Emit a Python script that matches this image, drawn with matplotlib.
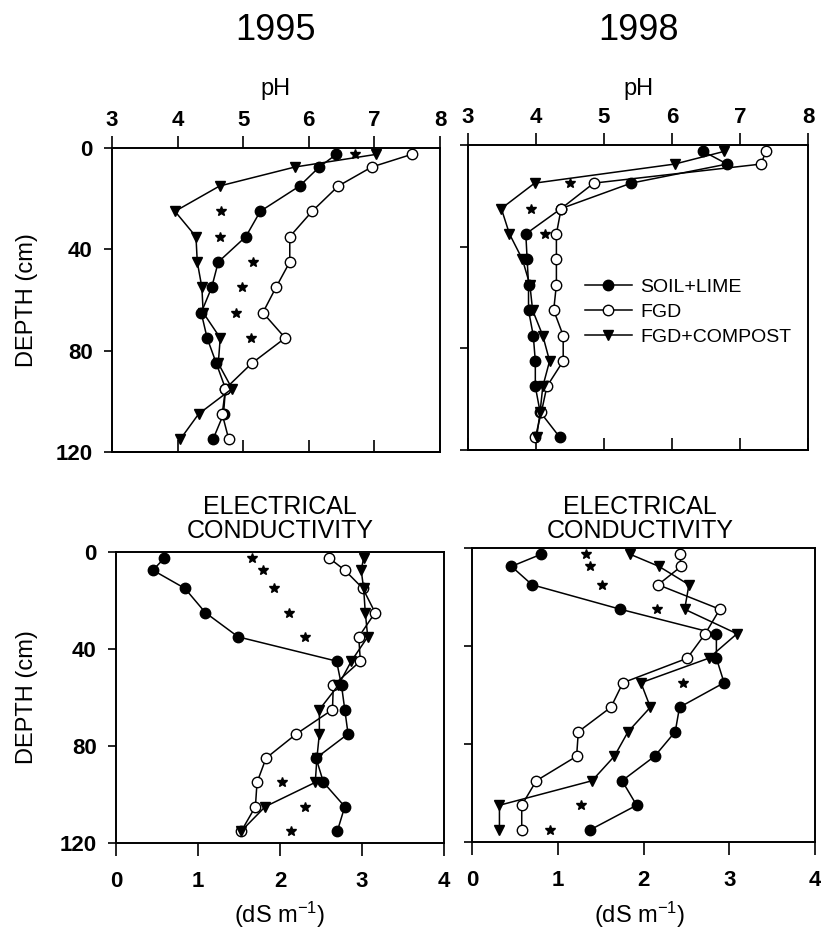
import matplotlib
matplotlib.use('Agg')
import matplotlib.pyplot as plt

plt.rcParams['font.family'] = ['Liberation Sans', 'DejaVu Sans']
plt.rcParams['mathtext.fontset'] = 'custom'
plt.rcParams['mathtext.rm'] = 'Liberation Sans'
plt.rcParams['mathtext.it'] = 'Liberation Sans:italic'
plt.rcParams['mathtext.bf'] = 'Liberation Sans:bold'

# ---------------- data ----------------
depth = [2.5, 7.5, 15, 25, 35, 45, 55, 65, 75, 85, 95, 105, 115]

ph95_soil = [6.42, 6.16, 5.86, 5.26, 5.04, 4.62, 4.52, 4.36, 4.45, 4.59, 4.73, 4.70, 4.54]
ph95_fgd = [7.57, 6.96, 6.45, 6.05, 5.71, 5.71, 5.50, 5.30, 5.64, 5.13, 4.73, 4.68, 4.78]
ph95_comp = [7.03, 5.79, 4.64, 3.96, 4.28, 4.30, 4.37, 4.39, 4.65, 4.62, 4.83, 4.32, 4.04]
ph95_star_depth = [2.5, 25, 35, 45, 55, 65, 75]
ph95_star = [6.70, 4.66, 4.64, 5.15, 4.98, 4.89, 5.12]

ph98_soil = [6.46, 6.81, 5.40, 4.37, 3.85, 3.87, 3.89, 3.89, 3.96, 3.99, 3.99, 4.06, 4.35]
ph98_fgd = [7.38, 7.31, 4.85, 4.37, 4.30, 4.30, 4.30, 4.26, 4.40, 4.40, 4.16, 4.08, 3.99]
ph98_comp = [6.77, 6.04, 3.98, 3.49, 3.61, 3.80, 3.91, 3.95, 4.10, 4.20, 4.10, 4.06, 4.01]
ph98_star_depth = [15, 25, 35]
ph98_star = [4.50, 3.93, 4.13]

ec95_soil = [0.59, 0.45, 0.84, 1.09, 1.49, 2.69, 2.75, 2.79, 2.83, 2.44, 2.53, 2.79, 2.70]
ec95_fgd = [2.60, 2.79, 3.01, 3.16, 2.96, 2.98, 2.65, 2.64, 2.20, 1.83, 1.72, 1.70, 1.53]
ec95_comp = [3.02, 2.99, 3.02, 3.04, 3.07, 2.87, 2.71, 2.48, 2.48, 2.45, 2.43, 1.82, 1.53]
ec95_star_depth = [2.5, 7.5, 15, 25, 35, 95, 105, 115]
ec95_star = [1.66, 1.79, 1.93, 2.11, 2.31, 2.03, 2.30, 2.13]

ec98_soil = [0.81, 0.46, 0.70, 1.73, 2.85, 2.85, 2.94, 2.42, 2.37, 2.13, 1.75, 1.92, 1.38]
ec98_fgd = [2.42, 2.44, 2.17, 2.89, 2.72, 2.51, 1.76, 1.62, 1.24, 1.22, 0.75, 0.58, 0.58]
ec98_comp = [1.84, 2.18, 2.53, 2.48, 3.09, 2.76, 1.97, 2.08, 1.82, 1.66, 1.40, 0.32, 0.32]
ec98_star_depth = [2.5, 7.5, 15, 25, 55, 105, 115]
ec98_star = [1.33, 1.38, 1.52, 2.16, 2.46, 1.27, 0.91]

series_labels = ['SOIL+LIME', 'FGD', 'FGD+COMPOST']
years = ['1995', '1998']
ph_ticks = [3, 4, 5, 6, 7, 8]
ec_ticks = [0, 1, 2, 3, 4]
depth_ticks = [0, 40, 80, 120]

# ---------------- layout ----------------
W, H = 821, 934
fig = plt.figure(figsize=(W / 100, H / 100), dpi=100)


def rect(l, t, r, b):
    return [l / W, 1 - b / H, (r - l) / W, (b - t) / H]


TICK_FS = 16
MS = 7.5

styles = [
    dict(marker='o', color='black', mfc='black', mec='black'),
    dict(marker='o', color='black', mfc='white', mec='black'),
    dict(marker='v', color='black', mfc='black', mec='black'),
]


def draw(ax, soil, fgd, comp, sdep, sval, xlim):
    handles = []
    for vals, st, lab in zip([soil, fgd, comp], styles, series_labels):
        h, = ax.plot(vals, depth, lw=1.1, ms=MS, mew=1.0, label=lab, **st)
        handles.append(h)
    ax.plot(sval, sdep, ls='none', marker='*', ms=7, color='black')
    ax.set_xlim(*xlim)
    ax.set_ylim(120, 0)
    ax.set_yticks(depth_ticks)
    for s in ax.spines.values():
        s.set_linewidth(1.4)
    return handles


def bold_ticks(ax):
    for lab in ax.get_xticklabels() + ax.get_yticklabels():
        lab.set_fontweight('bold')


def style_ph(ax, left_labels):
    ax.set_xticks(ph_ticks)
    ax.xaxis.set_ticks_position('top')
    ax.tick_params(axis='x', which='both', direction='out', length=9, width=1.2,
                   labelsize=TICK_FS, pad=3, top=True, bottom=False,
                   labeltop=True, labelbottom=False)
    sec = ax.secondary_xaxis('bottom')
    sec.set_xticks(ph_ticks)
    sec.tick_params(direction='in', length=9, width=1.2, labelbottom=False)
    sec.spines['bottom'].set_linewidth(1.4)
    ax.tick_params(axis='y', direction='out', length=6, width=1.2,
                   labelsize=TICK_FS, pad=8, labelleft=left_labels)
    bold_ticks(ax)


def style_ec(ax, left_labels):
    ax.set_xticks(ec_ticks)
    ax.tick_params(axis='x', direction='out', length=9, width=1.2,
                   labelsize=TICK_FS, pad=11)
    ax.tick_params(axis='y', direction='out', length=6, width=1.2,
                   labelsize=TICK_FS, pad=8, labelleft=left_labels)
    bold_ticks(ax)


ax_tl = fig.add_axes(rect(112, 148, 440, 452))
ax_tr = fig.add_axes(rect(468, 145, 808, 450))
ax_bl = fig.add_axes(rect(116, 552, 444, 843))
ax_br = fig.add_axes(rect(472, 548, 815, 842))

draw(ax_tl, ph95_soil, ph95_fgd, ph95_comp, ph95_star_depth, ph95_star, (3, 8))
hands = draw(ax_tr, ph98_soil, ph98_fgd, ph98_comp, ph98_star_depth, ph98_star, (3, 8))
draw(ax_bl, ec95_soil, ec95_fgd, ec95_comp, ec95_star_depth, ec95_star, (0, 4))
draw(ax_br, ec98_soil, ec98_fgd, ec98_comp, ec98_star_depth, ec98_star, (0, 4))

style_ph(ax_tl, True)
style_ph(ax_tr, False)
style_ec(ax_bl, True)
style_ec(ax_br, False)

# titles and labels
for cx, yr in zip([276, 638], years):
    fig.text(cx / W, 1 - 30 / H, yr, ha='center', va='center', fontsize=26)
    fig.text(cx / W, 1 - 95 / H, 'pH', ha='center', va='baseline', fontsize=17)

for cx in [280, 640]:
    fig.text(cx / W, 1 - 519 / H, 'ELECTRICAL\nCONDUCTIVITY', ha='center',
             va='center', fontsize=18, linespacing=1.0)
    fig.text(cx / W, 1 - 915 / H, '(dS m$^{-1}$)', ha='center', va='center',
             fontsize=17)

for cy in [300, 697]:
    fig.text(27 / W, 1 - cy / H, 'DEPTH (cm)', ha='center', va='center',
             rotation=90, fontsize=17)

fig.legend(handles=hands, labels=series_labels, loc='upper left',
           bbox_to_anchor=(585 / W, 1 - 278 / H), frameon=False,
           fontsize=14, handlelength=2.4, handletextpad=0.45,
           labelspacing=0.38, borderpad=0, borderaxespad=0, numpoints=1)

fig.savefig('out.png', dpi=100)
